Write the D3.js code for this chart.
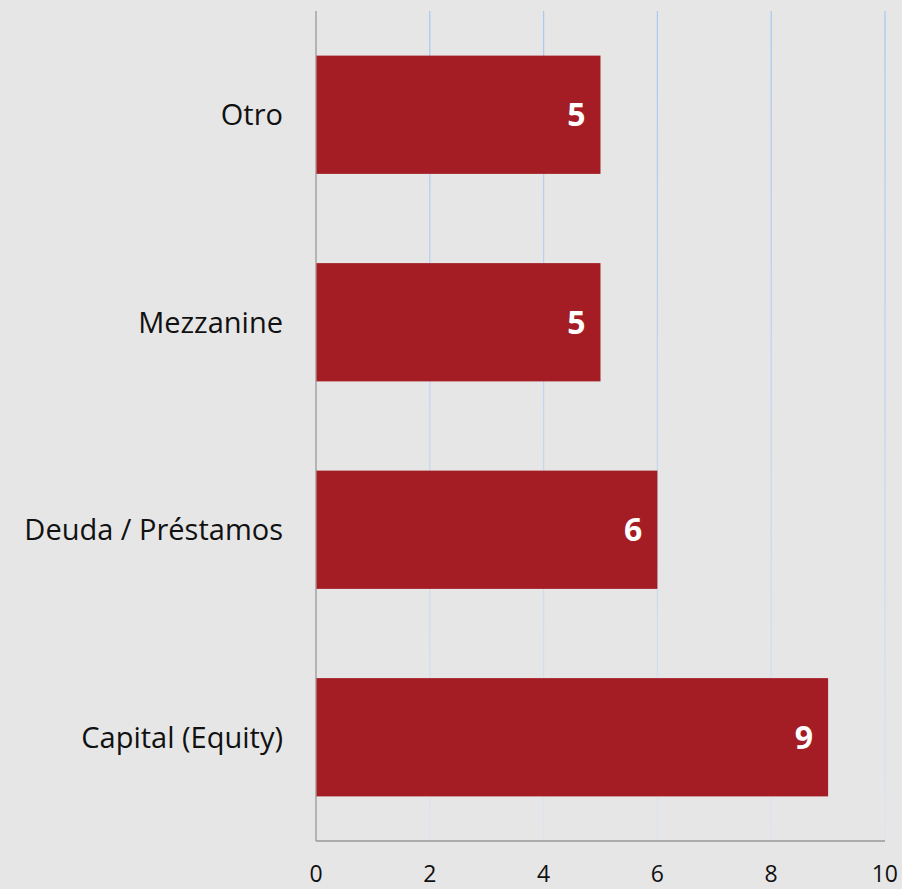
<!DOCTYPE html>
<html lang="es">
  <head>
    <meta charset="UTF-8" />
    <title>Bar Chart</title>
    <script src="https://cdn.jsdelivr.net/npm/d3@7"></script>
    <style>
      body { margin: 0; background: #e6e6e6; }
      text { font-family: 'Open Sans', 'Noto Sans', sans-serif; }
    </style>
  </head>
  <body>
    <div id="chart_svg"></div>
    <script>
      const categories = ['Otro', 'Mezzanine', 'Deuda / Préstamos', 'Capital (Equity)']
      const values = [5, 5, 6, 9]
      const ticks = [0, 2, 4, 6, 8, 10]

      const width = 902
      const height = 889
      const margin = { top: 11, right: 17, bottom: 48, left: 316 }

      const svg = d3
        .select('#chart_svg')
        .append('svg')
        .attr('width', width)
        .attr('height', height)

      svg.append('rect').attr('width', width).attr('height', height).attr('fill', '#e6e6e6')

      const x = d3.scaleLinear().domain([0, 10]).range([margin.left, width - margin.right])
      const y = d3
        .scaleBand()
        .domain(categories)
        .range([margin.top, height - margin.bottom])
        .paddingInner(0.43)
        .paddingOuter(0.215)

      // grid lines fade from blue at the top to the background at the bottom
      const grad = svg
        .append('defs')
        .append('linearGradient')
        .attr('id', 'gridFade')
        .attr('gradientUnits', 'userSpaceOnUse')
        .attr('x1', 0).attr('y1', margin.top)
        .attr('x2', 0).attr('y2', height - margin.bottom)
      grad.append('stop').attr('offset', '0%').attr('stop-color', '#abc9f0')
      grad.append('stop').attr('offset', '100%').attr('stop-color', '#dde4ee')

      svg
        .append('g')
        .selectAll('line')
        .data(ticks.slice(1))
        .join('line')
        .attr('x1', d => x(d))
        .attr('x2', d => x(d))
        .attr('y1', margin.top)
        .attr('y2', height - margin.bottom)
        .attr('stroke', 'url(#gridFade)')
        .attr('stroke-width', 1.3)

      // axes lines
      svg
        .append('line')
        .attr('x1', x(0)).attr('x2', x(0))
        .attr('y1', margin.top).attr('y2', height - margin.bottom)
        .attr('stroke', '#999')
        .attr('stroke-width', 1.3)
      svg
        .append('line')
        .attr('x1', x(0)).attr('x2', x(10))
        .attr('y1', height - margin.bottom).attr('y2', height - margin.bottom)
        .attr('stroke', '#999')
        .attr('stroke-width', 1.3)

      // bars
      svg
        .append('g')
        .selectAll('rect')
        .data(values)
        .join('rect')
        .attr('x', x(0) + 0.5)
        .attr('y', (d, i) => y(categories[i]))
        .attr('width', d => x(d) - x(0) - 0.5)
        .attr('height', y.bandwidth())
        .attr('fill', '#a51d24')

      // value labels
      svg
        .append('g')
        .selectAll('text')
        .data(values)
        .join('text')
        .attr('x', d => x(d) - 15)
        .attr('y', (d, i) => y(categories[i]) + y.bandwidth() / 2)
        .attr('dy', '0.36em')
        .attr('text-anchor', 'end')
        .attr('fill', '#fff')
        .attr('font-size', 32)
        .attr('font-weight', 'bold')
        .text(d => d)

      // category labels
      svg
        .append('g')
        .selectAll('text')
        .data(categories)
        .join('text')
        .attr('x', margin.left - 33)
        .attr('y', d => y(d) + y.bandwidth() / 2)
        .attr('dy', '0.36em')
        .attr('text-anchor', 'end')
        .attr('fill', '#111')
        .attr('font-size', 29)
        .text(d => d)

      // tick labels
      svg
        .append('g')
        .selectAll('text')
        .data(ticks)
        .join('text')
        .attr('x', d => x(d))
        .attr('y', 882)
        .attr('text-anchor', (d, i) => (i === ticks.length - 1 ? 'end' : 'middle'))
        .attr('dx', (d, i) => (i === ticks.length - 1 ? 13 : 0))
        .attr('fill', '#111')
        .attr('font-size', 23)
        .text(d => d)
    </script>
  </body>
</html>
